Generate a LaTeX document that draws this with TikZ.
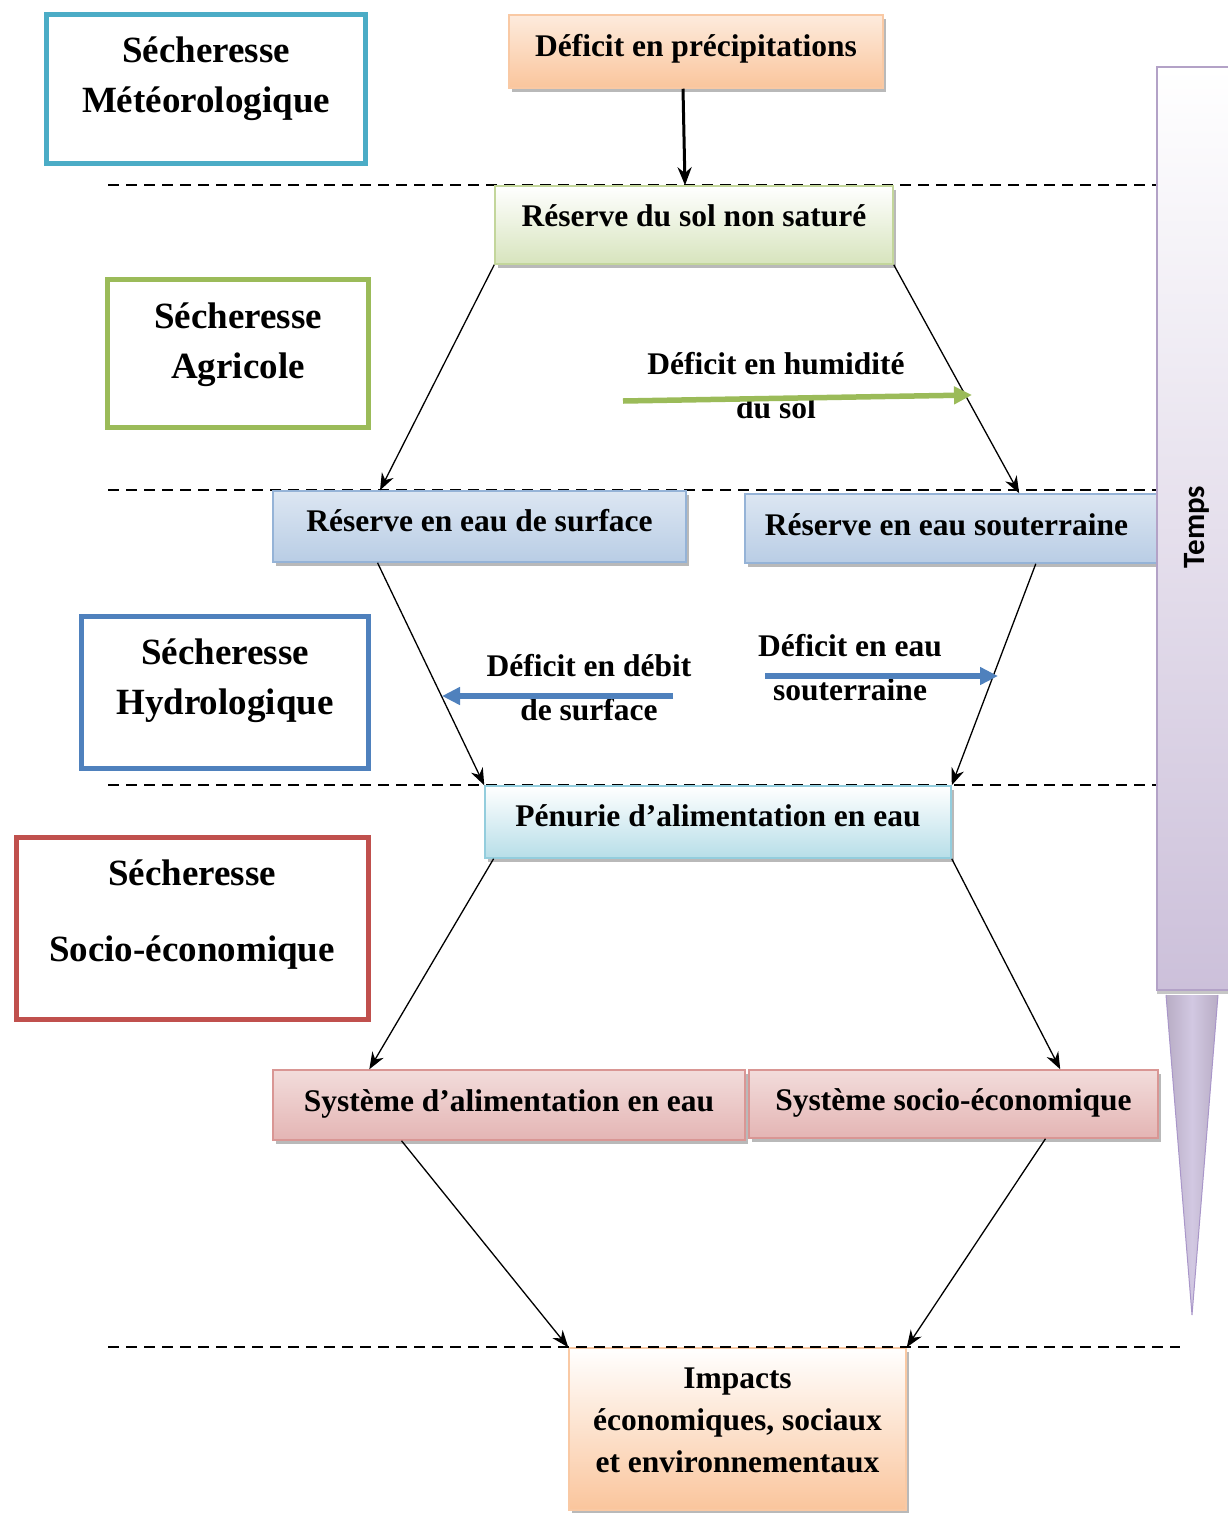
\documentclass[tikz,border=0pt]{standalone}
\usepackage{fontspec}
\setmainfont{Liberation Serif}
\newfontfamily\tempsfont{Carlito}
\usetikzlibrary{arrows.meta,calc,shadows}
\definecolor{cMet}{HTML}{4BACC6}
\definecolor{cAgr}{HTML}{9BBB59}
\definecolor{cHyd}{HTML}{4F81BD}
\definecolor{cSoc}{HTML}{C0504D}
\definecolor{bOr}{HTML}{F9C9A4}
\definecolor{tOr}{HTML}{FDEBDD}
\definecolor{lOr}{HTML}{FAC59C}
\definecolor{bGr}{HTML}{C3D69B}
\definecolor{lGr}{HTML}{D7E4BD}
\definecolor{bBl}{HTML}{95B3D7}
\definecolor{tBl}{HTML}{DCE6F2}
\definecolor{lBl}{HTML}{B9CDE5}
\definecolor{bTe}{HTML}{93CDDD}
\definecolor{lTe}{HTML}{B7DEE8}
\definecolor{bRe}{HTML}{D99694}
\definecolor{tRe}{HTML}{F2DCDB}
\definecolor{lRe}{HTML}{E4B5B4}
\definecolor{bPu}{HTML}{B3A2C7}
\definecolor{lPu}{HTML}{CCC0DA}
\definecolor{tri}{HTML}{D2C8E2}
\definecolor{triE}{HTML}{A996C9}
\tikzset{
  catbox/.style={draw, line width=5, fill=white, inner sep=0},
  cattxt/.style={align=center, font=\fontsize{37}{50}\selectfont\bfseries, inner sep=0},
  procbox/.style={draw, line width=1.5, align=center, inner sep=0,
    font=\fontsize{31.5}{42}\selectfont\bfseries,
    drop shadow={shadow xshift=3pt, shadow yshift=-4pt, opacity=1, fill=gray!55}},
  lbl/.style={align=center, font=\fontsize{31.5}{44}\selectfont\bfseries, inner sep=0},
  conn/.style={line width=1.3, -{Stealth[length=17pt, width=13pt]}},
  sep/.style={line width=2, dash pattern=on 11pt off 7pt},
  fatarrow/.style={line width=5.5, -{Triangle[length=18pt, width=17pt]}}
}
\begin{document}
\begin{tikzpicture}[x=1pt, y=-1pt]
\useasboundingbox (0,0) rectangle (1227,1513);
% dashed separators
\coordinate (s1a) at (108,185); \coordinate (s1b) at (1157,185);
\coordinate (s2a) at (108,490); \coordinate (s2b) at (1157,490);
\coordinate (s3a) at (108,785); \coordinate (s3b) at (1157,785);
\coordinate (s4a) at (108,1347); \coordinate (s4b) at (1180,1347);
\draw[sep] (s1a) -- (s1b);
\draw[sep] (s2a) -- (s2b);
\draw[sep] (s3a) -- (s3b);

% category boxes
\node[catbox, draw=cMet, minimum width=319, minimum height=149] (met) at (205.5,88.5) {};
\node[cattxt] (mettxt) at (206,79) {Sécheresse\\Météorologique};
\node[catbox, draw=cAgr, minimum width=261, minimum height=148] (agr) at (237.5,353) {};
\node[cattxt] (agrtxt) at (238,345) {Sécheresse\\Agricole};
\node[catbox, draw=cHyd, minimum width=287, minimum height=152] (hyd) at (224.5,692) {};
\node[cattxt] (hydtxt) at (225,681) {Sécheresse\\Hydrologique};
\node[catbox, draw=cSoc, minimum width=352, minimum height=182] (soc) at (192,928) {};
\node[cattxt, font=\fontsize{37}{76}\selectfont\bfseries] (soctxt) at (192,915) {Sécheresse\\Socio-économique};

% process boxes
\node[procbox, draw=bOr, top color=tOr, bottom color=lOr, minimum width=374, minimum height=73, text depth=12pt] (dp) at (696,51.5) {Déficit en précipitations};
\node[procbox, draw=bGr, top color=white, bottom color=lGr, minimum width=398, minimum height=78, text depth=19pt] (rs) at (694,225) {Réserve du sol non saturé};
\node[procbox, draw=bBl, top color=tBl, bottom color=lBl, minimum width=413, minimum height=71, text depth=13pt] (surf) at (479.5,526.5) {Réserve en eau de surface};
\node[procbox, draw=bBl, top color=tBl, bottom color=lBl, minimum width=415, minimum height=69, text depth=7pt] (sout) at (952.5,528.5) {Réserve en eau souterraine\hspace*{12pt}};
\node[procbox, draw=bTe, top color=white, bottom color=lTe, minimum width=466, minimum height=72, text depth=12pt] (pen) at (718,822) {Pénurie d’alimentation en eau};
\node[procbox, draw=bRe, top color=tRe, bottom color=lRe, minimum width=472, minimum height=70, text depth=9pt] (sae) at (509,1105) {Système d’alimentation en eau};
\node[procbox, draw=bRe, top color=tRe, bottom color=lRe, minimum width=409, minimum height=68, text depth=9pt] (sse) at (953.5,1104) {Système socio-économique};
\node[procbox, draw=bOr, top color=white, bottom color=lOr, minimum width=337, minimum height=162, drop shadow={opacity=0}, text depth=18pt] (imp) at (737.5,1429) {Impacts\\économiques, sociaux\\et environnementaux};
\draw[sep] (s4a) -- (s4b);

% Temps bar
\node[draw=bPu, line width=1.5, top color=white, bottom color=lPu, minimum width=72, minimum height=923, inner sep=0,
  drop shadow={shadow xshift=0pt, shadow yshift=-4pt, opacity=1, fill=gray!45}] (temps) at (1193,528.5) {};
\node[rotate=90, font=\fontsize{31}{36}\selectfont\tempsfont\bfseries, inner sep=0] (tempstxt) at (1197,527) {Temps};
\coordinate (t1) at (1166,995); \coordinate (t2) at (1218,995); \coordinate (t3) at (1192,1315);
\shade[left color=lPu!90!black, right color=lPu!90!black, middle color=tri] (t1) -- (t2) -- (t3) -- cycle;
\draw[triE, line width=1] (t1) -- (t3) -- (t2);

% connectors
\draw[line width=3, -{Stealth[length=18pt, width=14pt]}] ($(dp.south)+(-13,0)$) -- ($(rs.north)+(-9,0)$);
\draw[conn] (rs.south west) -- ($(surf.north west)!0.26!(surf.north east)$);
\draw[conn] (rs.south east) -- ($(sout.north west)!0.66!(sout.north east)$);
\draw[conn] ($(surf.south west)!0.254!(surf.south east)$) -- (pen.north west);
\draw[conn] ($(sout.south west)!0.70!(sout.south east)$) -- (pen.north east);
\draw[conn] ($(pen.south west)!0.02!(pen.south east)$) -- ($(sae.north west)!0.205!(sae.north east)$);
\draw[conn] (pen.south east) -- ($(sse.north west)!0.76!(sse.north east)$);
\draw[conn] ($(sae.south west)!0.273!(sae.south east)$) -- (imp.north west);
\draw[conn] ($(sse.south west)!0.724!(sse.south east)$) -- (imp.north east);

% deficit labels and arrows
\node[lbl] (hum) at (776,386) {Déficit en humidité\\du sol};
\coordinate (g1) at (623,401); \coordinate (g2) at (972,395);
\draw[fatarrow, cAgr] (g1) -- (g2);
\node[lbl] (deb) at (589,688) {Déficit en débit\\de surface};
\coordinate (b1) at (673,696); \coordinate (b2) at (442,696);
\draw[fatarrow, cHyd] (b1) -- (b2);
\node[lbl] (eau) at (850,668) {Déficit en eau\\souterraine};
\coordinate (c1) at (765,676); \coordinate (c2) at (998,676);
\draw[fatarrow, cHyd] (c1) -- (c2);
\end{tikzpicture}
\end{document}
